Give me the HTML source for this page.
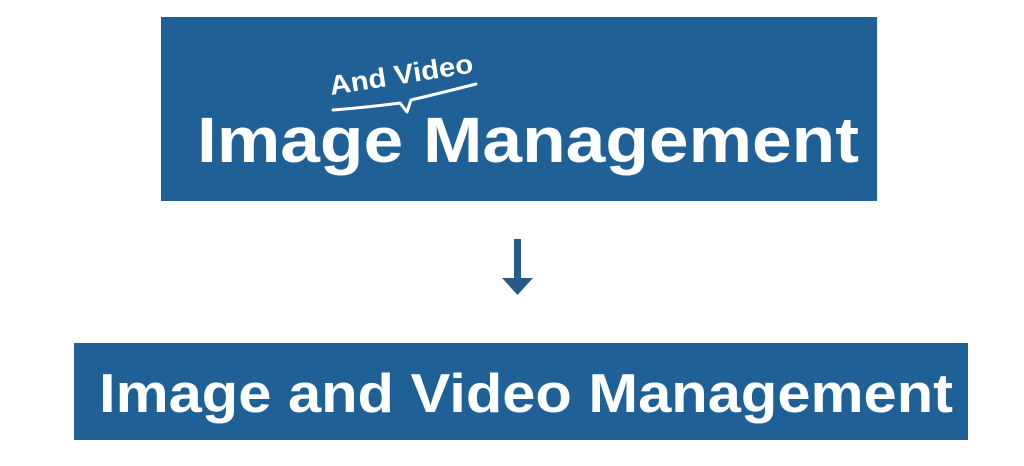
<!DOCTYPE html>
<html><head><meta charset="utf-8"><style>
html,body{margin:0;padding:0;background:#fff;width:1024px;height:466px;overflow:hidden}
</style></head><body>
<svg width="1024" height="466" viewBox="0 0 1024 466" xmlns="http://www.w3.org/2000/svg">
<rect x="161" y="17" width="716" height="184" fill="#1f6096"/>
<text x="197" y="162" font-family="Liberation Sans, sans-serif" font-weight="bold" font-size="64" fill="#fff" textLength="662" lengthAdjust="spacingAndGlyphs">Image Management</text>
<text x="0" y="0" transform="translate(331,95) rotate(-9)" font-family="Liberation Sans, sans-serif" font-weight="bold" font-size="27" fill="#fff" textLength="145" lengthAdjust="spacingAndGlyphs">And Video</text>
<path d="M333 110 Q370 107 400 103 L407 112 L411 100 Q445 92 476 84" stroke="#fff" stroke-width="3" fill="none" stroke-linecap="round" stroke-linejoin="round"/>
<rect x="514" y="239" width="7" height="42" fill="#245b88"/>
<polygon points="502,278 533,278 517.5,295" fill="#245b88"/>
<rect x="74" y="343" width="894" height="97" fill="#1f6096"/>
<text x="99" y="412" font-family="Liberation Sans, sans-serif" font-weight="bold" font-size="55" fill="#fff" textLength="854" lengthAdjust="spacingAndGlyphs">Image and Video Management</text>
</svg>
</body></html>
